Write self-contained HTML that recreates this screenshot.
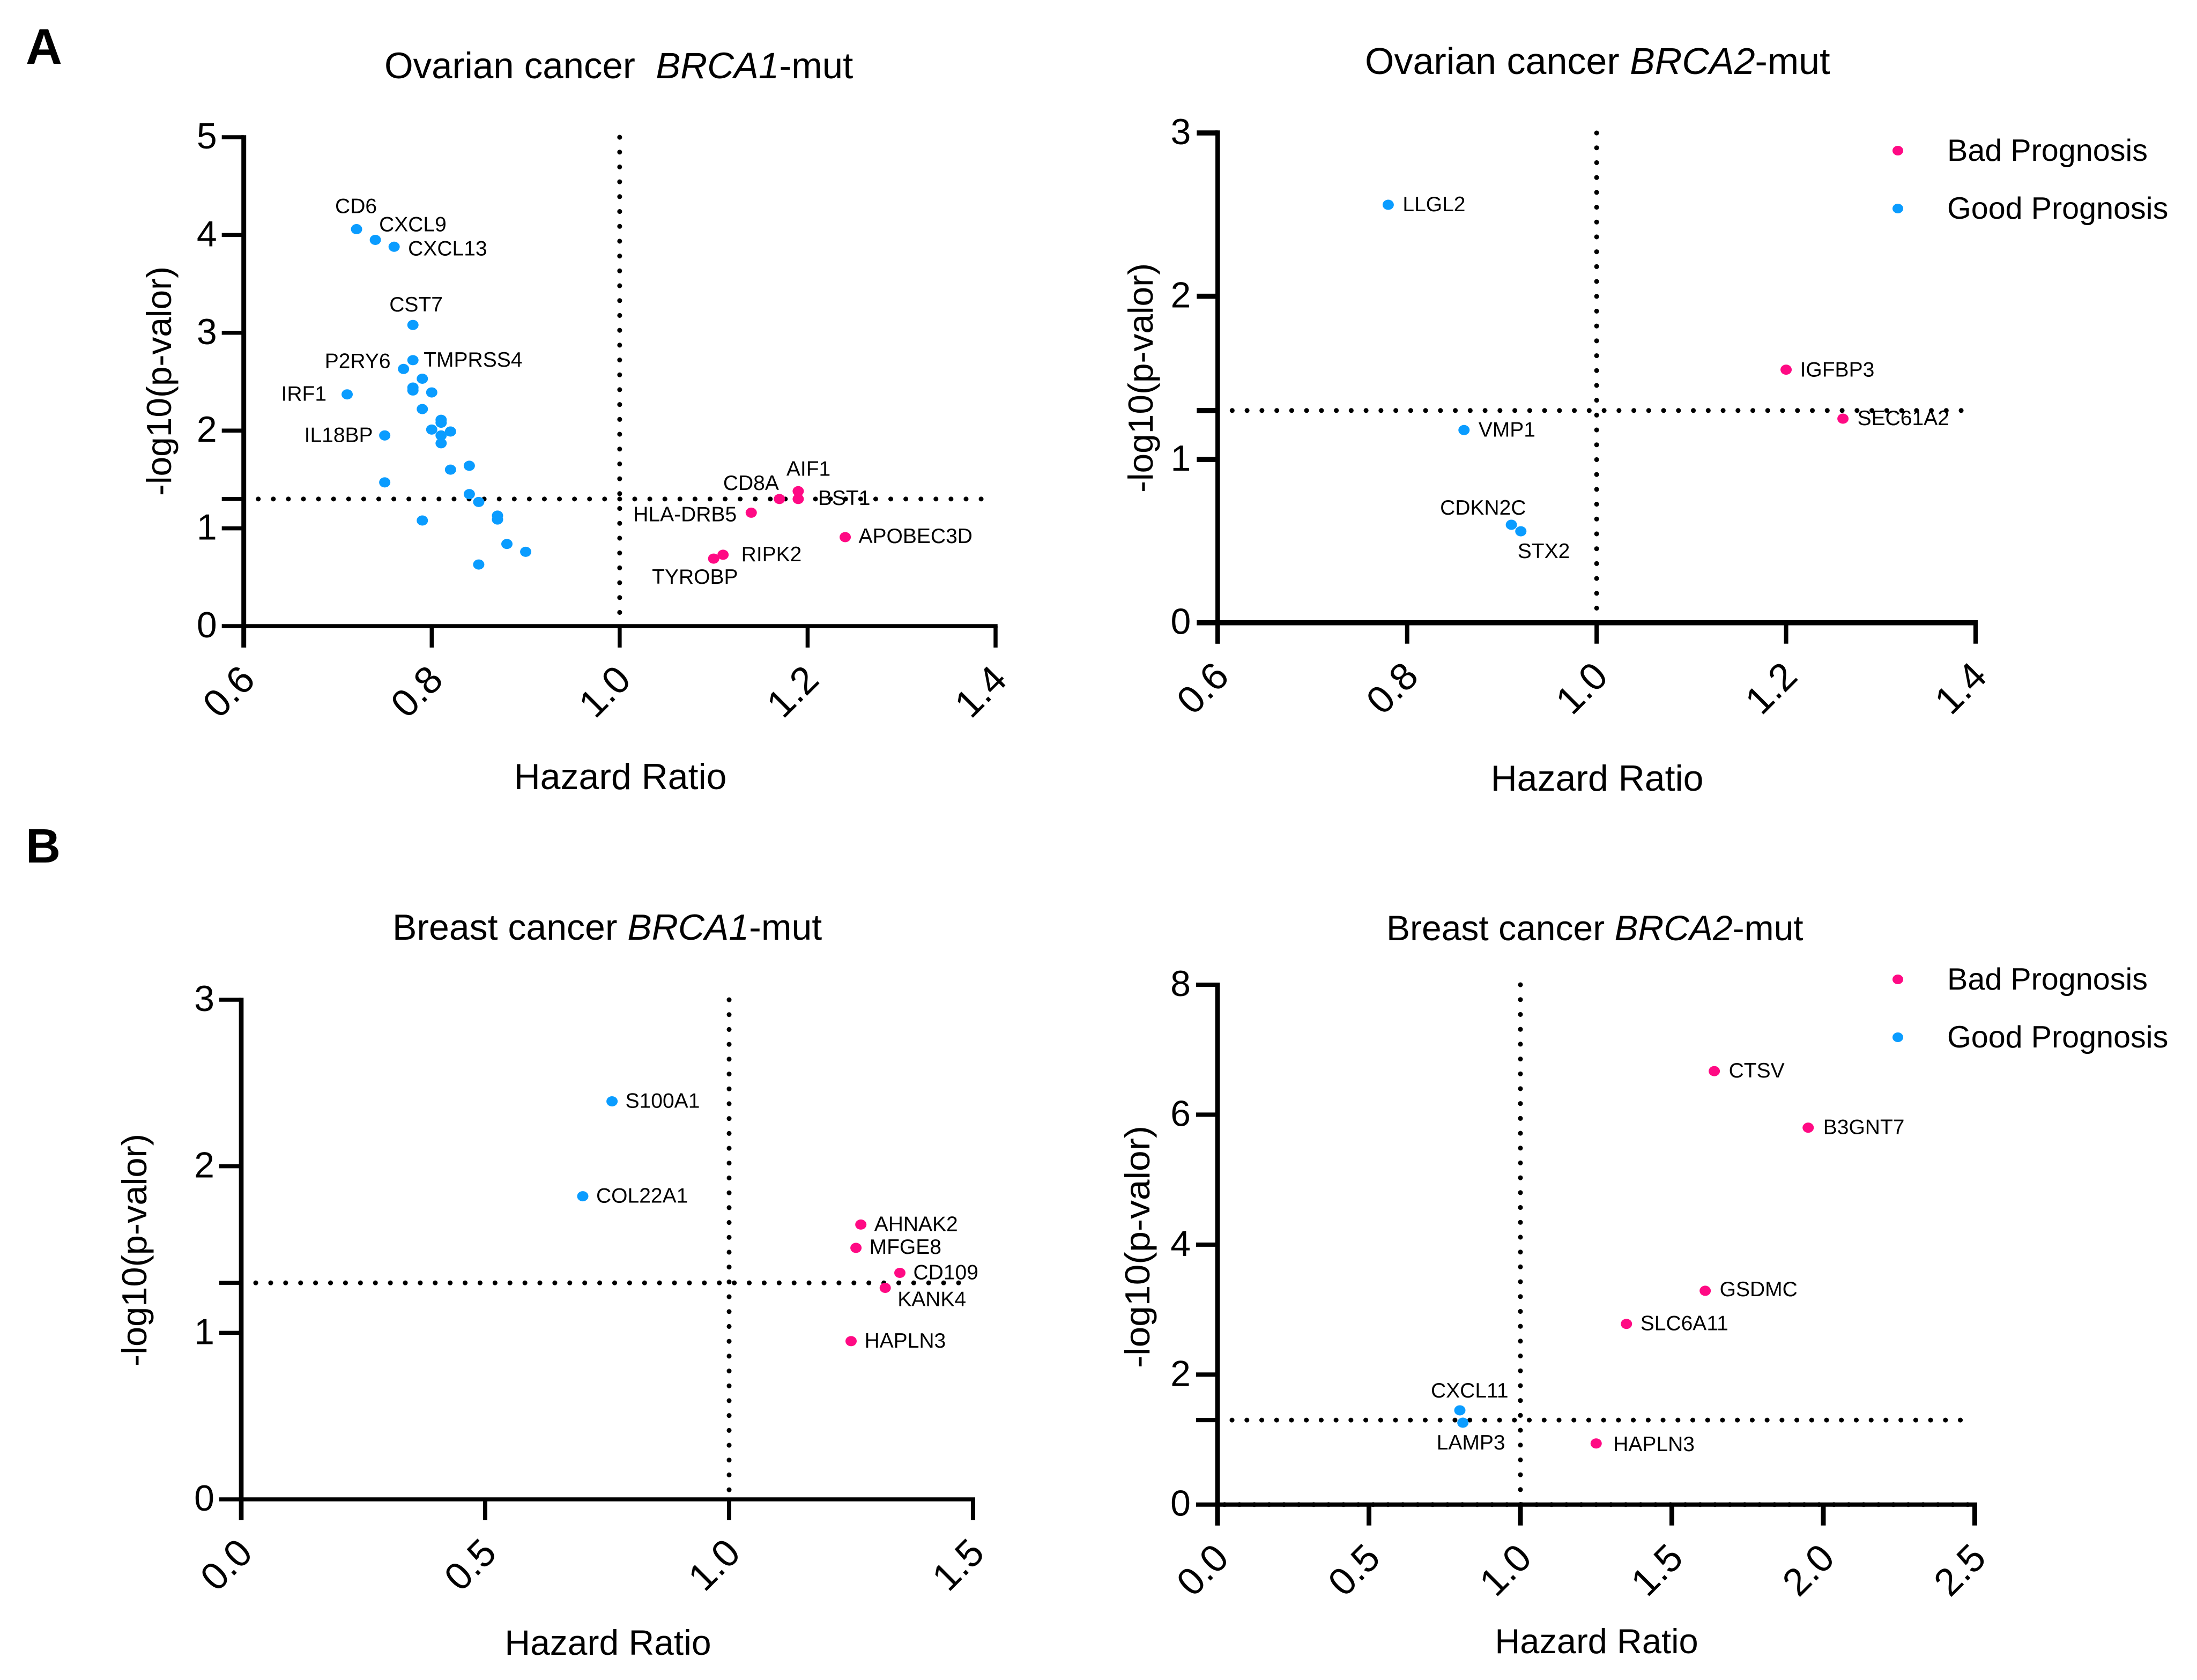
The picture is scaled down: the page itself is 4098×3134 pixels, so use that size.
<!DOCTYPE html>
<html>
<head>
<meta charset="utf-8">
<title>Hazard ratio volcano plots</title>
<style>
html,body{margin:0;padding:0;background:#fff;}
svg{display:block;}
text{font-family:"Liberation Sans",Arial,sans-serif;fill:#000;}
</style>
</head>
<body>
<svg id="figure" xmlns="http://www.w3.org/2000/svg" width="4098" height="3134" viewBox="0 0 4098 3134">
  <rect x="0" y="0" width="4098" height="3134" fill="#ffffff"></rect>
  <text x="48" y="119" font-size="94" font-weight="700">A</text>
  <text x="48" y="1609" font-size="90" font-weight="700">B</text>
</svg>
<script>
// Ovarian BRCA1
const ovB1XTicks = ["0.6", "0.8", "1.0", "1.2", "1.4"];
const ovB1YTicks = ["0", "1", "2", "3", "4", "5"];
const ovB1GoodGenes = ["CD6","CXCL9","CXCL13","CST7","TMPRSS4","P2RY6","","","","","IRF1","","","","","","","","IL18BP","","","","","","","","","","",""];
const ovB1GoodHR = [0.72,0.74,0.76,0.78,0.78,0.77,0.79,0.78,0.78,0.80,0.71,0.79,0.81,0.81,0.80,0.82,0.81,0.81,0.75,0.84,0.82,0.75,0.84,0.85,0.87,0.87,0.79,0.88,0.90,0.85];
const ovB1GoodP = [4.06,3.95,3.88,3.08,2.72,2.63,2.53,2.44,2.41,2.39,2.37,2.22,2.11,2.08,2.01,1.99,1.95,1.87,1.95,1.64,1.60,1.47,1.35,1.27,1.13,1.09,1.08,0.84,0.76,0.63];
const ovB1BadGenes = ["AIF1","BST1","CD8A","HLA-DRB5","APOBEC3D","RIPK2","TYROBP"];
const ovB1BadHR = [1.19,1.19,1.17,1.14,1.24,1.11,1.10];
const ovB1BadP = [1.38,1.30,1.30,1.16,0.91,0.73,0.69];

// Ovarian BRCA2
const ovB2XTicks = ["0.6", "0.8", "1.0", "1.2", "1.4"];
const ovB2YTicks = ["0", "1", "2", "3"];
const ovB2GoodGenes = ["LLGL2","VMP1","CDKN2C","STX2"];
const ovB2GoodHR = [0.78,0.86,0.91,0.92];
const ovB2GoodP = [2.56,1.18,0.60,0.56];
const ovB2BadGenes = ["IGFBP3","SEC61A2"];
const ovB2BadHR = [1.20,1.26];
const ovB2BadP = [1.55,1.25];

// Breast BRCA1
const brB1XTicks = ["0.0", "0.5", "1.0", "1.5"];
const brB1YTicks = ["0", "1", "2", "3"];
const brB1GoodGenes = ["S100A1","COL22A1"];
const brB1GoodHR = [0.76,0.70];
const brB1GoodP = [2.39,1.82];
const brB1BadGenes = ["AHNAK2","MFGE8","CD109","KANK4","HAPLN3"];
const brB1BadHR = [1.27,1.26,1.35,1.32,1.25];
const brB1BadP = [1.65,1.51,1.36,1.27,0.95];

// Breast BRCA2
const brB2XTicks = ["0.0", "0.5", "1.0", "1.5", "2.0", "2.5"];
const brB2YTicks = ["0", "2", "4", "6", "8"];
const brB2GoodGenes = ["CXCL11","LAMP3"];
const brB2GoodHR = [0.80,0.81];
const brB2GoodP = [1.45,1.26];
const brB2BadGenes = ["CTSV","B3GNT7","GSDMC","SLC6A11","HAPLN3"];
const brB2BadHR = [1.64,1.95,1.61,1.35,1.25];
const brB2BadP = [6.67,5.80,3.29,2.78,0.94];

// Reference lines (shared by every panel)
const hrReference = 1.0;
const pReference = 1.3;

// Legend
const legendLabels = ["Bad Prognosis", "Good Prognosis"];

const COLOR_BAD = "#ff0a84";
const COLOR_GOOD = "#0a9cff";
const SVG_NS = "http://www.w3.org/2000/svg";
const svg = document.getElementById("figure");

// Label placement relative to each dot, keyed by panel then gene (layout only)
const labelLayout = {
  ovB1: {"CD6":[-40,-30],"CXCL9":[7,-16],"CXCL13":[26,16],"CST7":[-44,-25],"P2RY6":[-147,-2],"TMPRSS4":[20,12],"IRF1":[-123,12],"IL18BP":[-150,12],"AIF1":[-22,-29],"CD8A":[-105,-17],"BST1":[37,11],"HLA-DRB5":[-220,16],"APOBEC3D":[25,11],"RIPK2":[34,12],"TYROBP":[-115,47]},
  ovB2: {"LLGL2":[27,12],"IGFBP3":[26,13],"SEC61A2":[27,12],"VMP1":[27,12],"CDKN2C":[-133,-19],"STX2":[-6,50]},
  brB1: {"S100A1":[25,12],"COL22A1":[25,12],"AHNAK2":[25,12],"MFGE8":[25,11],"CD109":[25,12],"KANK4":[23,34],"HAPLN3":[25,12]},
  brB2: {"CTSV":[27,12],"B3GNT7":[28,12],"GSDMC":[27,10],"SLC6A11":[26,12],"CXCL11":[-54,-24],"LAMP3":[-49,50],"HAPLN3":[32,14]}
};

function make(tag, attrs, text) {
  const el = document.createElementNS(SVG_NS, tag);
  for (const k in attrs) el.setAttribute(k, attrs[k]);
  if (text !== undefined) el.textContent = text;
  return el;
}
function drawLine(parent, name, x1, y1, x2, y2, width, extra) {
  const el = make("line", Object.assign({x1: x1, y1: y1, x2: x2, y2: y2, stroke: "#000", "stroke-width": width}, extra || {}));
  
  
  parent.appendChild(el);
  return el;
}

function drawPanel(cfg) {
  const g = make("g", {});
  
  
  svg.appendChild(g);

  const xMin = parseFloat(cfg.xTicks[0]);
  const xMax = parseFloat(cfg.xTicks[cfg.xTicks.length - 1]);
  const yMin = parseFloat(cfg.yTicks[0]);
  const yMax = parseFloat(cfg.yTicks[cfg.yTicks.length - 1]);
  const sx = function (v) { return cfg.left + (v - xMin) / (xMax - xMin) * (cfg.right - cfg.left); };
  const sy = function (v) { return cfg.bottom - (v - yMin) / (yMax - yMin) * (cfg.bottom - cfg.top); };

  // Title
  const title = make("text", {x: cfg.titleX, y: cfg.titleY, "font-size": cfg.titleSize});
  
  
  const t1 = make("tspan", {}, cfg.titleA);
  const t2 = make("tspan", {"font-style": "italic"}, cfg.titleB);
  const t3 = make("tspan", {}, "-mut");
  title.appendChild(t1); title.appendChild(t2); title.appendChild(t3);
  g.appendChild(title);

  // Reference lines
  const hStart = cfg.left + 27, hEnd = cfg.right - 27;
  const hPeriod = (hEnd - hStart) / Math.round((hEnd - hStart) / 28);
  const vDots = {"stroke-dasharray": "0.1 27.6", "stroke-linecap": "round"};
  const hDots = {"stroke-dasharray": "0.1 " + (hPeriod - 0.1), "stroke-linecap": "round"};
  drawLine(g, 'vertical-reference-line', sx(hrReference), cfg.top, sx(hrReference), cfg.bottom, 9, vDots);
  drawLine(g, 'horizontal-reference-line', hStart, sy(pReference), hEnd + 0.2, sy(pReference), 9, hDots);
  if (cfg.zeroDots) drawLine(g, 'baseline-dotted-line', hStart - 14, cfg.bottom, hEnd + 14, cfg.bottom, 9, hDots);

  // Axes
  drawLine(g, 'y-axis-line', cfg.left, cfg.top - cfg.xWidth / 2, cfg.left, cfg.bottom + cfg.tickLen, cfg.yWidth);
  drawLine(g, 'x-axis-line', cfg.left - cfg.yTickLen, cfg.bottom, cfg.right + cfg.tickWidth / 2, cfg.bottom, cfg.xWidth);

  // X ticks and labels
  cfg.xTicks.forEach(function (label) {
    const v = parseFloat(label);
    drawLine(g, 'x-tick', sx(v), cfg.bottom, sx(v), cfg.bottom + cfg.tickLen, cfg.tickWidth);
    const cx = sx(v) - 29, cy = cfg.bottom + 121;
    const t = make("text", {x: cx, y: cy + 26, "font-size": 72, "text-anchor": "middle", transform: "rotate(-45 " + cx + " " + cy + ")"}, label);
    
    
    g.appendChild(t);
  });

  // Y ticks and labels
  cfg.yTicks.forEach(function (label) {
    const v = parseFloat(label);
    if (v > yMin) drawLine(g, 'y-tick', cfg.left - cfg.yTickLen, sy(v), cfg.left, sy(v), cfg.xWidth);
    const t = make("text", {x: cfg.left - 50, y: sy(v) + 21, "font-size": 68, "text-anchor": "end"}, label);
    
    
    g.appendChild(t);
  });
  drawLine(g, 'threshold-tick', cfg.left - cfg.yTickLen, sy(pReference), cfg.left, sy(pReference), cfg.xWidth);

  // Axis titles
  const xt = make("text", {x: cfg.xTitleX, y: cfg.xTitleY, "font-size": cfg.xTitleSize, "text-anchor": "middle"}, "Hazard Ratio");
  
  
  g.appendChild(xt);
  const yt = make("text", {x: 0, y: 0, "font-size": 65, "text-anchor": "middle", textLength: cfg.yTitleLen, lengthAdjust: "spacingAndGlyphs", transform: "translate(" + cfg.yTitleX + " " + cfg.yTitleY + ") rotate(-90)"}, "-log10(p-valor)");
  
  
  g.appendChild(yt);

  // Series
  function series(hr, p, genes, color, seriesName) {
    hr.forEach(function (h, i) {
      const px = sx(h), py = sy(p[i]);
      const dot = make("ellipse", {cx: px, cy: py, rx: 10.5, ry: 9.5, fill: color});
      
      
      g.appendChild(dot);
      const gene = genes[i];
      if (gene) {
        const off = labelLayout[cfg.id][gene];
        const t = make("text", {x: px + off[0], y: py + off[1], "font-size": 39, fill: "#111"}, gene);
        
        
        g.appendChild(t);
      }
    });
  }
  series(cfg.goodHR, cfg.goodP, cfg.goodGenes, COLOR_GOOD, 'good-prognosis');
  series(cfg.badHR, cfg.badP, cfg.badGenes, COLOR_BAD, 'bad-prognosis');

  // Legend
  if (cfg.legendY) {
    legendLabels.forEach(function (label, i) {
      const ly = cfg.legendY + i * cfg.legendGap;
      const entry = make("g", {});
      
      
      g.appendChild(entry);
      const mark = make("ellipse", {cx: 3540, cy: ly, rx: 10, ry: 9, fill: i === 0 ? COLOR_BAD : COLOR_GOOD});
      
      
      entry.appendChild(mark);
      const t = make("text", {x: 3632, y: ly + 19, "font-size": 57.5}, label);
      
      
      entry.appendChild(t);
    });
  }
}

drawPanel({
  id: "ovB1", xTicks: ovB1XTicks, yTicks: ovB1YTicks,
  goodHR: ovB1GoodHR, goodP: ovB1GoodP, goodGenes: ovB1GoodGenes,
  badHR: ovB1BadHR, badP: ovB1BadP, badGenes: ovB1BadGenes,
  left: 454.7, right: 1857, top: 256, bottom: 1168,
  yWidth: 9, xWidth: 7.5, tickWidth: 7.5, tickLen: 40, yTickLen: 41,
  titleA: "Ovarian cancer\u00A0\u00A0", titleB: "BRCA1", titleX: 717, titleY: 146, titleSize: 69,
  xTitleX: 1157, xTitleY: 1472, xTitleSize: 68, yTitleX: 319, yTitleY: 711, yTitleLen: 428
});
drawPanel({
  id: "ovB2", xTicks: ovB2XTicks, yTicks: ovB2YTicks,
  goodHR: ovB2GoodHR, goodP: ovB2GoodP, goodGenes: ovB2GoodGenes,
  badHR: ovB2BadHR, badP: ovB2BadP, badGenes: ovB2BadGenes,
  left: 2271.3, right: 3685, top: 248, bottom: 1161.7,
  yWidth: 8.5, xWidth: 9.5, tickWidth: 8, tickLen: 39, yTickLen: 39,
  titleA: "Ovarian cancer ", titleB: "BRCA2", titleX: 2546, titleY: 138, titleSize: 70,
  xTitleX: 2979, xTitleY: 1475, xTitleSize: 68, yTitleX: 2150, yTitleY: 705, yTitleLen: 428,
  legendY: 281, legendGap: 108
});
drawPanel({
  id: "brB1", xTicks: brB1XTicks, yTicks: brB1YTicks,
  goodHR: brB1GoodHR, goodP: brB1GoodP, goodGenes: brB1GoodGenes,
  badHR: brB1BadHR, badP: brB1BadP, badGenes: brB1BadGenes,
  left: 450, right: 1815, top: 1865, bottom: 2797,
  yWidth: 8.7, xWidth: 7.5, tickWidth: 8, tickLen: 39, yTickLen: 41,
  titleA: "Breast cancer ", titleB: "BRCA1", titleX: 732, titleY: 1753, titleSize: 68,
  xTitleX: 1134, xTitleY: 3087, xTitleSize: 66, yTitleX: 273, yTitleY: 2332, yTitleLen: 434
});
drawPanel({
  id: "brB2", xTicks: brB2XTicks, yTicks: brB2YTicks,
  goodHR: brB2GoodHR, goodP: brB2GoodP, goodGenes: brB2GoodGenes,
  badHR: brB2BadHR, badP: brB2BadP, badGenes: brB2BadGenes,
  left: 2271, right: 3683.5, top: 1837, bottom: 2806.7,
  yWidth: 8.7, xWidth: 8, tickWidth: 9, tickLen: 39, yTickLen: 40,
  titleA: "Breast cancer ", titleB: "BRCA2", titleX: 2586, titleY: 1754, titleSize: 66,
  xTitleX: 2978, xTitleY: 3084, xTitleSize: 65, yTitleX: 2144, yTitleY: 2326, yTitleLen: 452,
  legendY: 1827, legendGap: 108, zeroDots: true
});
</script>
</body>
</html>
